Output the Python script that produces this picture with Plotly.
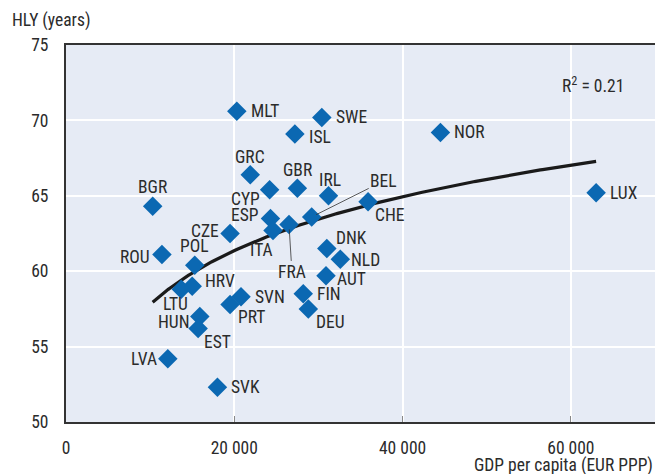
import numpy as np
import plotly.graph_objects as go

countries = ["MLT", "SWE", "ISL", "NOR", "GRC", "GBR", "IRL", "CYP", "BGR", "LUX",
             "CHE", "BEL", "ESP", "ITA", "FRA", "CZE", "ROU", "POL", "DNK", "NLD",
             "AUT", "HRV", "LTU", "HUN", "EST", "LVA", "SVK", "SVN", "PRT", "FIN", "DEU"]
gdp = [20300, 30400, 27200, 44500, 21900, 27500, 31200, 24200, 10300, 63000,
       35900, 29200, 24300, 24600, 26500, 19500, 11400, 15300, 31000, 32600,
       30900, 15000, 13700, 15900, 15700, 12100, 18000, 20800, 19500, 28200, 28800]
hly = [70.6, 70.2, 69.1, 69.2, 66.4, 65.5, 65.0, 65.4, 64.3, 65.2,
       64.6, 63.6, 63.5, 62.7, 63.1, 62.5, 61.1, 60.4, 61.5, 60.8,
       59.7, 59.0, 58.8, 57.0, 56.2, 54.2, 52.3, 58.3, 57.8, 58.5, 57.5]
r2_text = "R<sup>2</sup> = 0.21"
x_ticks = [0, 20000, 40000, 60000]
y_ticks = [50, 55, 60, 65, 70, 75]

# label placement (style): (xanchor, xshift, yshift)
label_pos = {
    "MLT": ("left", 12, 0), "SWE": ("left", 12, 0), "ISL": ("left", 12, -3),
    "NOR": ("left", 12, 0), "GRC": ("center", 0, 18), "GBR": ("center", 0, 18),
    "IRL": ("center", 1, 16), "CYP": ("right", -8, -9), "BGR": ("center", 0, 19),
    "LUX": ("left", 12, 0), "CHE": ("left", 5, -13), "ESP": ("right", -9, 3),
    "ITA": ("center", -11, -20), "CZE": ("right", -9, 3), "ROU": ("right", -10, -2),
    "POL": ("center", 0, 19), "DNK": ("left", 7, 11), "NLD": ("left", 9, -1),
    "AUT": ("left", 9, -3), "HRV": ("left", 11, 5), "LTU": ("center", -6, -15),
    "HUN": ("right", -8, -6), "EST": ("center", 19, -13), "LVA": ("right", -9, 0),
    "SVK": ("left", 12, 0), "SVN": ("left", 12, 0), "PRT": ("center", 21, -13),
    "FIN": ("left", 12, 0), "DEU": ("center", 22, -13),
}
leader = {"BEL": (72, -36), "FRA": (3, 48)}

FONT = "Liberation Sans Narrow, Arial Narrow, Roboto Condensed, Liberation Sans, sans-serif"
TXT = "#2b2b2b"
BLUE = "#0b68b2"
FS = 17.5

# logarithmic trend fitted to the data
lx = np.log(np.array(gdp, dtype=float))
b, a = np.polyfit(lx, np.array(hly), 1)
xs = np.linspace(min(gdp), max(gdp), 200)
ys = a + b * np.log(xs)

fig = go.Figure()
fig.add_trace(go.Scatter(x=xs, y=ys, mode="lines",
                         line=dict(color="#1a1a1a", width=3.2),
                         hoverinfo="skip", showlegend=False))
fig.add_trace(go.Scatter(x=gdp, y=hly, mode="markers", text=countries,
                         marker=dict(symbol="diamond", size=15, color=BLUE,
                                     line=dict(width=0)),
                         showlegend=False))

annotations = []
for c, xv, yv in zip(countries, gdp, hly):
    if c in leader:
        ax, ay = leader[c]
        annotations.append(dict(x=xv, y=yv, text=c, showarrow=True, arrowhead=0,
                                arrowwidth=0.8, arrowcolor="#333", ax=ax, ay=ay,
                                standoff=5, font=dict(family=FONT, size=FS, color=TXT)))
    else:
        xa, xsft, ysft = label_pos[c]
        annotations.append(dict(x=xv, y=yv, text=c, showarrow=False, xanchor=xa,
                                yanchor="middle", xshift=xsft, yshift=ysft,
                                font=dict(family=FONT, size=FS, color=TXT)))

annotations.append(dict(x=0.895, y=0.895, xref="paper", yref="paper", text=r2_text,
                        showarrow=False, xanchor="center", yanchor="middle",
                        font=dict(family=FONT, size=FS, color=TXT)))
annotations.append(dict(x=-0.095, y=1, xref="paper", yref="paper", text="HLY (years)",
                        showarrow=False, xanchor="left", yanchor="bottom", yshift=12,
                        font=dict(family=FONT, size=FS, color=TXT)))
annotations.append(dict(x=1, y=0, xref="paper", yref="paper",
                        text="GDP per capita (EUR PPP)", showarrow=False,
                        xanchor="right", yanchor="top", yshift=-31,
                        font=dict(family=FONT, size=FS, color=TXT)))

fig.update_layout(
    width=656, height=474,
    margin=dict(l=66, r=1, t=45, b=52),
    paper_bgcolor="white", plot_bgcolor="#E6EBF5",
    separators=". ",
    font=dict(family=FONT, size=FS, color=TXT),
    annotations=annotations,
    xaxis=dict(range=[0, 70000], tickvals=x_ticks, tickformat=",d",
               showgrid=True, gridcolor="white", gridwidth=1.5, zeroline=False,
               showline=True, linecolor="#333", linewidth=2, mirror=True,
               ticks="inside", ticklen=6, tickcolor="#888", tickwidth=1,
               ticklabelstandoff=9),
    yaxis=dict(range=[50, 75], tickvals=y_ticks,
               showgrid=True, gridcolor="white", gridwidth=1.5, zeroline=False,
               showline=True, linecolor="#333", linewidth=2,
               ticks="", ticklabelstandoff=12),
)

fig.write_html("out.html", config={"displayModeBar": False},
               post_script="document.body.style.margin='0';document.body.style.overflow='hidden';")
